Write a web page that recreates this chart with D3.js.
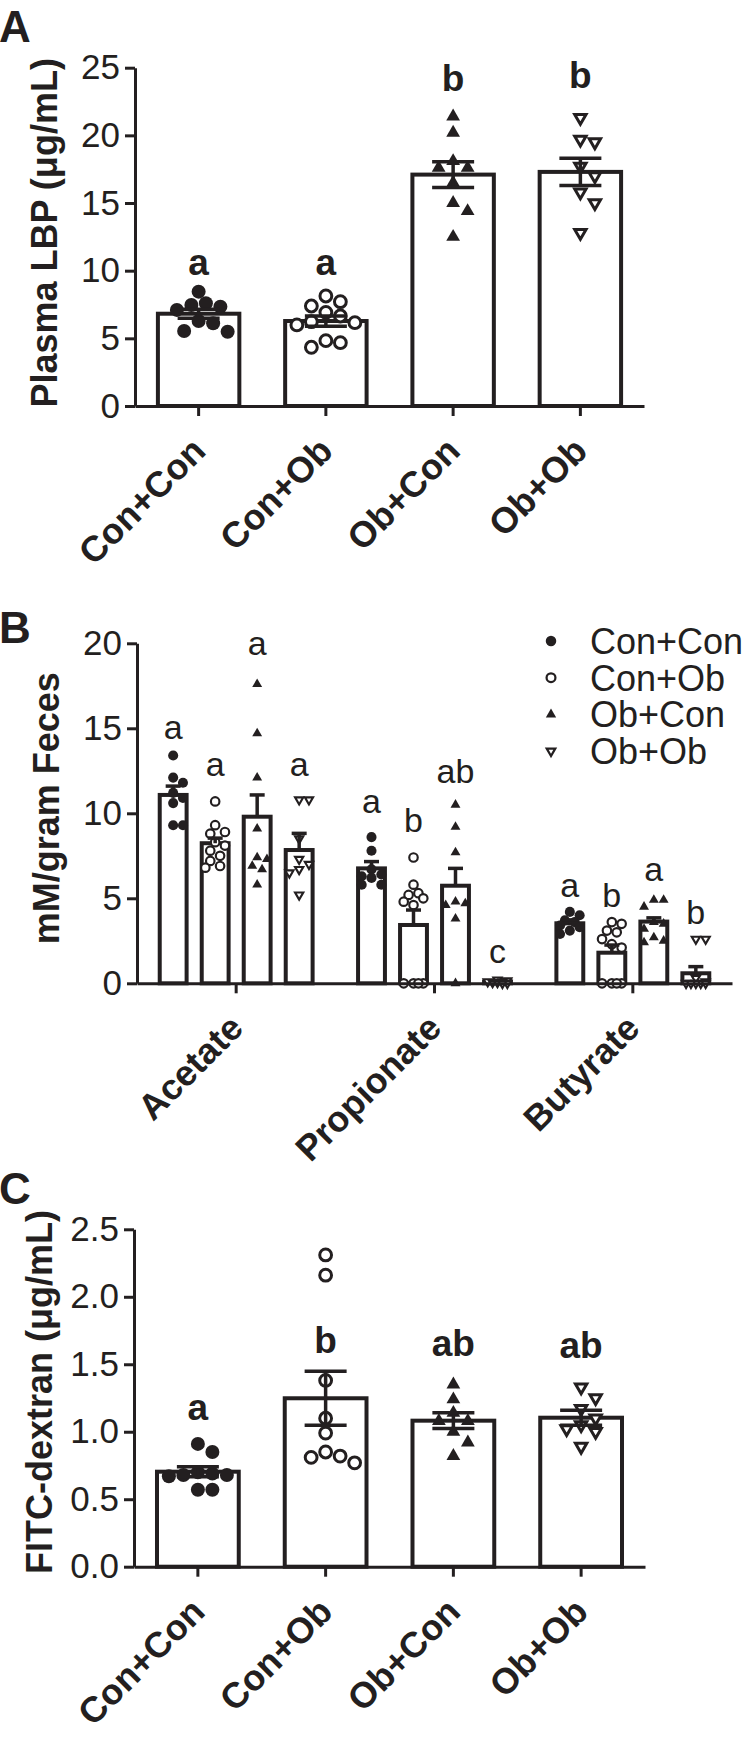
<!DOCTYPE html>
<html>
<head>
<meta charset="utf-8">
<title>Plasma LBP, fecal SCFA and FITC-dextran</title>
<script src="https://d3js.org/d3.v7.min.js"></script>
<style>
body { margin: 0; background: #fff; }
svg { display: block; font-family: "Liberation Sans", Arial, sans-serif; }
</style>
</head>
<body>
<script>
// groups and their marker shapes
var groups = ["Con+Con", "Con+Ob", "Ob+Con", "Ob+Ob"];
var shapes = ["dot", "circle", "tri", "down"];

// A: plasma LBP (ug/mL)
var lbpMean = [6.82, 6.28, 17.1, 17.3];
var lbpSem = [0.33, 0.38, 0.95, 1.0];
var lbpPoints = [
  [7.59, 7.34, 7.10, 7.46, 8.45, 6.11, 5.49, 5.54, 6.28],
  [7.39, 7.71, 8.13, 6.92, 6.65, 6.23, 5.99, 6.16, 4.83, 4.34, 4.68],
  [21.4, 20.2, 18.1, 17.6, 17.6, 16.5, 15.0, 14.4, 12.5],
  [21.3, 19.7, 19.5, 17.7, 17.0, 15.8, 15.0, 12.8]
];
var lbpLetters = ["a", "a", "b", "b"];
var lbpLetterAt = [9.7, 9.7, 23.3, 23.5];
var lbpTicks = [0, 5, 10, 15, 20, 25];

// B: fecal short chain fatty acids (mM/gram)
var acids = ["Acetate", "Propionate", "Butyrate"];
var scfaMean = [[11.08, 8.24, 9.8, 7.84], [6.76, 3.43, 5.74, 0.1], [3.53, 1.8, 3.63, 0.59]];
var scfaSem = [[0.52, 0.3, 1.28, 0.98], [0.4, 0.88, 1.02, 0.05], [0.2, 0.45, 0.22, 0.39]];
var scfaPoints = [
  [[13.4, 12.1, 11.8, 11.2, 10.9, 10.6, 9.3, 9.3],
   [10.7, 9.3, 8.9, 8.8, 8.3, 8.1, 7.8, 7.5, 7.2, 6.9, 6.8],
   [17.6, 14.7, 12.1, 9.1, 7.4, 7.3, 6.9, 6.7, 5.8],
   [10.8, 10.8, 8.5, 7.3, 7.0, 6.7, 6.5, 5.2]],
  [[8.6, 7.8, 6.7, 6.4, 6.3, 6.2, 5.8, 5.8],
   [7.4, 5.8, 5.3, 5.2, 5.0, 4.8, 4.6, 0, 0, 0, 0],
   [10.5, 9.2, 7.7, 4.8, 4.7, 4.6, 3.8, 0],
   [0.2, 0.15, 0.1, 0.1, 0.05, 0.05, 0, 0]],
  [[4.2, 4.0, 3.7, 3.6, 3.4, 3.3, 3.1, 2.9],
   [3.6, 3.5, 3.1, 3.0, 2.6, 2.3, 2.1, 0, 0, 0, 0],
   [4.9, 4.9, 4.5, 3.6, 3.5, 3.2, 2.7, 2.5, 2.4],
   [2.6, 2.6, 0.3, 0.1, 0, 0, 0, 0, 0]]
];
var scfaLetters = [["a", "a", "a", "a"], ["a", "b", "ab", "c"], ["a", "b", "a", "b"]];
var scfaLetterAt = [[14.4, 12.2, 19.3, 12.2], [10.0, 8.9, 11.8, 1.2], [5.1, 4.5, 6.0, 3.5]];
var scfaTicks = [0, 5, 10, 15, 20];

// C: FITC-dextran (ug/mL)
var fitcMean = [0.704, 1.248, 1.082, 1.104];
var fitcSem = [0.037, 0.2, 0.058, 0.056];
var fitcPoints = [
  [0.91, 0.85, 0.70, 0.69, 0.68, 0.68, 0.67, 0.57, 0.57],
  [2.31, 2.16, 1.38, 1.10, 0.99, 0.85, 0.81, 0.77, 0.82],
  [1.35, 1.24, 1.14, 1.08, 1.08, 1.00, 0.92, 0.82],
  [1.33, 1.25, 1.17, 1.10, 1.05, 1.02, 1.00, 0.89]
];
var fitcLetters = ["a", "b", "ab", "ab"];
var fitcLetterAt = [1.09, 1.58, 1.56, 1.55];
var fitcTicks = [0, 0.5, 1.0, 1.5, 2.0, 2.5];

var ink = "#231f20";

var svg = d3.select("body").append("svg")
    .attr("width", 747)
    .attr("height", 1737);

var tri = d3.symbol().type(d3.symbolTriangle);

// s = 1 for the big markers (A, C), smaller for B and the legend
function addMarker(g, shape, s) {
  if (shape == "dot") {
    g.append("circle").attr("r", 7 * s).attr("fill", ink);
  } else if (shape == "circle") {
    g.append("circle").attr("r", 5.9 * s)
      .attr("fill", "#fff").attr("stroke", ink).attr("stroke-width", 3 * s);
  } else if (shape == "tri") {
    g.append("path").attr("d", tri.size(82 * s * s)()).attr("fill", ink);
  } else {
    g.append("path").attr("d", tri.size(56 * s * s)())
      .attr("transform", "rotate(180)")
      .attr("fill", "#fff").attr("stroke", ink).attr("stroke-width", 3 * s)
      .attr("stroke-linejoin", "miter");
  }
}

// simple deterministic beeswarm, like the prism scatter;
// points may overlap once the spread reaches maxOff
function swarm(vals, y, cx, d, maxOff) {
  var placed = [];
  vals.slice().sort(d3.descending).forEach(function(v) {
    var py = y(v), best = 0, bestGap = -1;
    for (var k = 0; ; k++) {
      var off = (k % 2 ? 1 : -1) * Math.ceil(k / 2) * d / 2;
      if (Math.abs(off) > maxOff) break;
      var gap = d3.min(placed, function(p) { return Math.hypot(p.x - cx - off, p.y - py); });
      if (gap === undefined || gap >= d * 0.92) { best = off; break; }
      if (gap > bestGap) { bestGap = gap; best = off; }
    }
    placed.push({v: v, x: cx + best, y: py});
  });
  return placed;
}

function drawPoints(g, pts, shape, s) {
  g.selectAll(null)
      .data(pts)
    .enter().append("g")
      .attr("transform", function(p) { return "translate(" + p.x + "," + p.y + ")"; })
      .each(function() { addMarker(d3.select(this), shape, s); });
}

function yAxis(g, y, ticks, fmt, x0) {
  var ax = g.append("g")
      .attr("transform", "translate(" + x0 + ",0)")
      .call(d3.axisLeft(y).tickValues(ticks).tickFormat(fmt).tickSize(10).tickSizeOuter(0).tickPadding(5));
  ax.selectAll("path, line").attr("stroke", ink).attr("stroke-width", 3);
  ax.selectAll("text")
      .attr("fill", ink)
      .attr("font-family", "Liberation Sans, Arial, sans-serif")
      .attr("font-size", 35);
}

function xAxis(g, x, y0, labels, centers) {
  var ax = g.append("g")
      .attr("transform", "translate(0," + y0 + ")")
      .call(d3.axisBottom(x).tickSize(10).tickSizeOuter(0).tickFormat(""));
  ax.selectAll("path, line").attr("stroke", ink).attr("stroke-width", 3);
  g.selectAll(null)
      .data(labels)
    .enter().append("text")
      .attr("transform", function(d, i) { return "translate(" + centers[i] + "," + (y0 + 38) + ") rotate(-45)"; })
      .attr("dy", "0.35em")
      .attr("text-anchor", "end")
      .attr("font-weight", "bold")
      .attr("font-size", 36)
      .attr("fill", ink)
      .text(function(d) { return d; });
}

function yTitle(g, text, x, cy) {
  g.append("text")
      .attr("transform", "translate(" + x + "," + cy + ") rotate(-90)")
      .attr("text-anchor", "middle")
      .attr("font-weight", "bold")
      .attr("font-size", 36)
      .attr("fill", ink)
      .text(text);
}

function panelLetter(text, y) {
  svg.append("text")
      .attr("x", -1)
      .attr("y", y)
      .attr("font-weight", "bold")
      .attr("font-size", 44)
      .attr("fill", ink)
      .text(text);
}

// panels A and C share one layout
function groupPanel(o) {
  var g = svg.append("g");
  var x = d3.scaleBand().domain(groups).range([o.left, o.right]).paddingInner(0.36).paddingOuter(0.18);
  var y = d3.scaleLinear().domain([0, o.max]).range([o.bottom, o.top]);
  var bw = x.bandwidth();
  var cx = groups.map(function(d) { return x(d) + bw / 2; });

  g.selectAll(".bar")
      .data(o.mean)
    .enter().append("rect")
      .attr("class", "bar")
      .attr("x", function(d, i) { return cx[i] - bw / 2; })
      .attr("y", function(d) { return y(d); })
      .attr("width", bw)
      .attr("height", function(d) { return y(0) - y(d); })
      .attr("fill", "#fff")
      .attr("stroke", ink)
      .attr("stroke-width", 4);

  o.points.forEach(function(vals, i) {
    drawPoints(g, swarm(vals, y, cx[i], 14.5, 36), shapes[i], 1);
  });

  // mean +/- SEM
  o.mean.forEach(function(m, i) {
    var e = g.append("g").attr("stroke", ink).attr("stroke-width", 3.5);
    e.append("line").attr("x1", cx[i]).attr("x2", cx[i]).attr("y1", y(m - o.sem[i])).attr("y2", y(m + o.sem[i]));
    [m - o.sem[i], m + o.sem[i]].forEach(function(v) {
      e.append("line").attr("x1", cx[i] - 21).attr("x2", cx[i] + 21).attr("y1", y(v)).attr("y2", y(v));
    });
  });

  g.selectAll(".sig")
      .data(o.letters)
    .enter().append("text")
      .attr("x", function(d, i) { return cx[i]; })
      .attr("y", function(d, i) { return y(o.letterAt[i]); })
      .attr("text-anchor", "middle")
      .attr("font-weight", "bold")
      .attr("font-size", 37)
      .attr("fill", ink)
      .text(function(d) { return d; });

  xAxis(g, x, o.bottom, groups, cx);
  yAxis(g, y, o.ticks, o.fmt, o.left);
  yTitle(g, o.title, o.titleX, (o.top + o.bottom) / 2 + o.titleShift);
}

// ---- A
panelLetter("A", 42);
groupPanel({
  left: 135, right: 644, top: 67.7, bottom: 406, max: 25,
  mean: lbpMean, sem: lbpSem, points: lbpPoints,
  letters: lbpLetters, letterAt: lbpLetterAt,
  ticks: lbpTicks, fmt: d3.format("d"),
  title: "Plasma LBP (\u03bcg/mL)", titleX: 57, titleShift: -4
});

// ---- B
panelLetter("B", 643);
(function() {
  var g = svg.append("g");
  var left = 137, right = 732, top = 643.3, bottom = 983.3;
  var x0 = d3.scaleBand().domain(acids).range([left, right]);
  var x1 = d3.scaleBand().domain(groups).range([-84, 84]).paddingInner(0.36).paddingOuter(0.18);
  var y = d3.scaleLinear().domain([0, 20]).range([bottom, top]);
  var bw = x1.bandwidth();
  var centers = acids.map(function(a) { return x0(a) + x0.bandwidth() / 2; });

  acids.forEach(function(a, j) {
    groups.forEach(function(grp, i) {
      var cx = centers[j] + x1(grp) + bw / 2;
      var m = scfaMean[j][i];
      g.append("rect")
          .attr("x", cx - bw / 2)
          .attr("y", y(m))
          .attr("width", bw)
          .attr("height", y(0) - y(m))
          .attr("fill", "#fff")
          .attr("stroke", ink)
          .attr("stroke-width", 4);
      drawPoints(g, swarm(scfaPoints[j][i], y, cx, 9.8, 10), shapes[i], 0.72);
      // upper SEM only
      var e = g.append("g").attr("stroke", ink).attr("stroke-width", 3.5);
      e.append("line").attr("x1", cx).attr("x2", cx).attr("y1", y(m)).attr("y2", y(m + scfaSem[j][i]));
      e.append("line").attr("x1", cx - 7.5).attr("x2", cx + 7.5)
          .attr("y1", y(m + scfaSem[j][i])).attr("y2", y(m + scfaSem[j][i]));
      g.append("text")
          .attr("x", cx)
          .attr("y", y(scfaLetterAt[j][i]))
          .attr("text-anchor", "middle")
          .attr("font-size", 34)
          .attr("fill", ink)
          .text(scfaLetters[j][i]);
    });
  });

  xAxis(g, x0, bottom, acids, centers);
  yAxis(g, y, scfaTicks, d3.format("d"), left);
  yTitle(g, "mM/gram Feces", 59, (top + bottom) / 2 - 5);

  // legend
  var lg = g.selectAll(".legend")
      .data(groups)
    .enter().append("g")
      .attr("class", "legend")
      .attr("transform", function(d, i) { return "translate(551," + (641 + i * 36.7) + ")"; });
  lg.each(function(d, i) { addMarker(d3.select(this), shapes[i], 0.75); });
  lg.append("text")
      .attr("x", 39)
      .attr("dy", "0.36em")
      .attr("font-size", 36)
      .attr("fill", ink)
      .text(function(d) { return d; });
})();

// ---- C
panelLetter("C", 1204);
groupPanel({
  left: 134, right: 645, top: 1229.3, bottom: 1566.7, max: 2.5,
  mean: fitcMean, sem: fitcSem, points: fitcPoints,
  letters: fitcLetters, letterAt: fitcLetterAt,
  ticks: fitcTicks, fmt: d3.format(".1f"),
  title: "FITC-dextran (\u03bcg/mL)", titleX: 52, titleShift: -6
});
</script>
</body>
</html>
